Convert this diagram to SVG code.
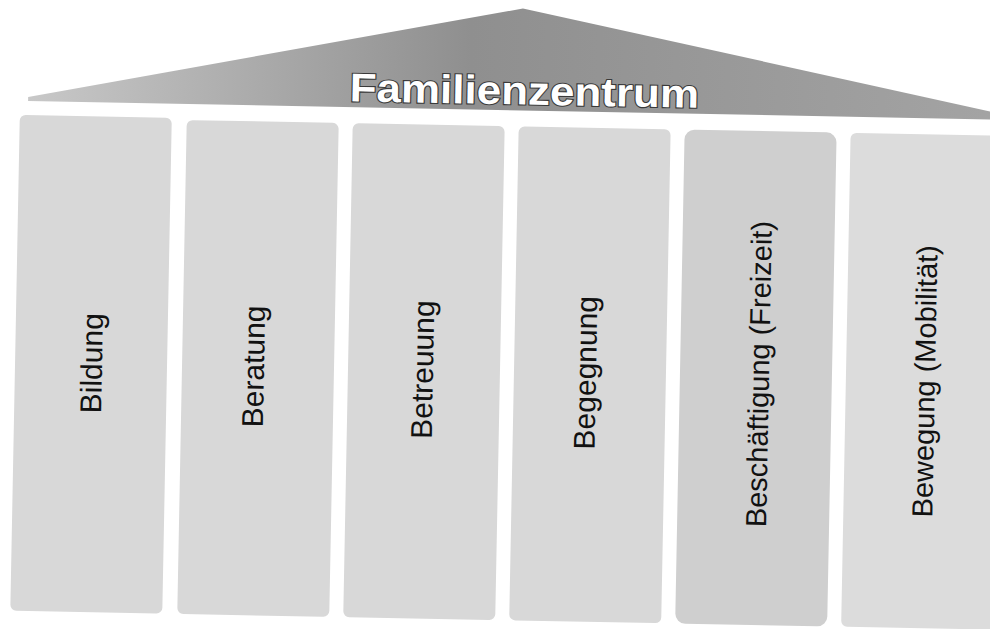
<svg xmlns="http://www.w3.org/2000/svg" width="990" height="629" viewBox="0 0 990 629">
  <defs>
    <linearGradient id="roofGrad" x1="0" y1="0" x2="1" y2="0">
      <stop offset="0" stop-color="#c8c8c8"/>
      <stop offset="0.45" stop-color="#8f8f8f"/>
      <stop offset="1" stop-color="#a4a4a4"/>
    </linearGradient>
  </defs>
  <style>
    .pillar { fill: #d8d8d8; }
    .label { font-family: "Liberation Sans", Arial, sans-serif; font-size: 30px; fill: #111; }
    .label.long { font-size: 29px; }
    .title { font-family: "Liberation Sans", Arial, sans-serif; font-size: 40px; font-weight: bold; fill: #ffffff; stroke: #3a3a3a; stroke-width: 2.2; paint-order: stroke; }
  </style>
  <rect width="990" height="629" fill="#ffffff"/>
  <g transform="rotate(1.1 495 370)">
    <g id="roof">
      <polygon points="23,106 516,8 1005,106 1005,110 23,110" fill="url(#roofGrad)"/>
      <text class="title" transform="translate(519 104) scale(1.1 1)" text-anchor="middle">Familienzentrum</text>
    </g>
    <g id="bildung">
      <rect class="pillar" x="15" y="124" width="152" height="496" rx="6"/>
      <text class="label" transform="translate(102 371) rotate(-90)" text-anchor="middle">Bildung</text>
    </g>
    <g id="beratung">
      <rect class="pillar" x="182" y="126" width="152" height="494" rx="6"/>
      <text class="label" transform="translate(264 371) rotate(-90)" text-anchor="middle">Beratung</text>
    </g>
    <g id="betreuung">
      <rect class="pillar" x="348" y="126" width="152" height="494" rx="6"/>
      <text class="label" transform="translate(433 371) rotate(-90)" text-anchor="middle">Betreuung</text>
    </g>
    <g id="begegnung">
      <rect class="pillar" x="514" y="126" width="152" height="494" rx="6"/>
      <text class="label" transform="translate(596 371) rotate(-90)" text-anchor="middle">Begegnung</text>
    </g>
    <g id="beschaeftigung">
      <rect class="pillar" x="680" y="126" width="152" height="494" rx="10" style="fill:#cfcfcf"/>
      <text class="label long" transform="translate(769 369) rotate(-90)" text-anchor="middle">Beschäftigung (Freizeit)</text>
    </g>
    <g id="bewegung">
      <rect class="pillar" x="846" y="126" width="160" height="494" rx="6" style="fill:#dcdcdc"/>
      <text class="label long" transform="translate(935 373) rotate(-90)" text-anchor="middle">Bewegung (Mobilität)</text>
    </g>
  </g>
  <g id="connectors"/>
</svg>
